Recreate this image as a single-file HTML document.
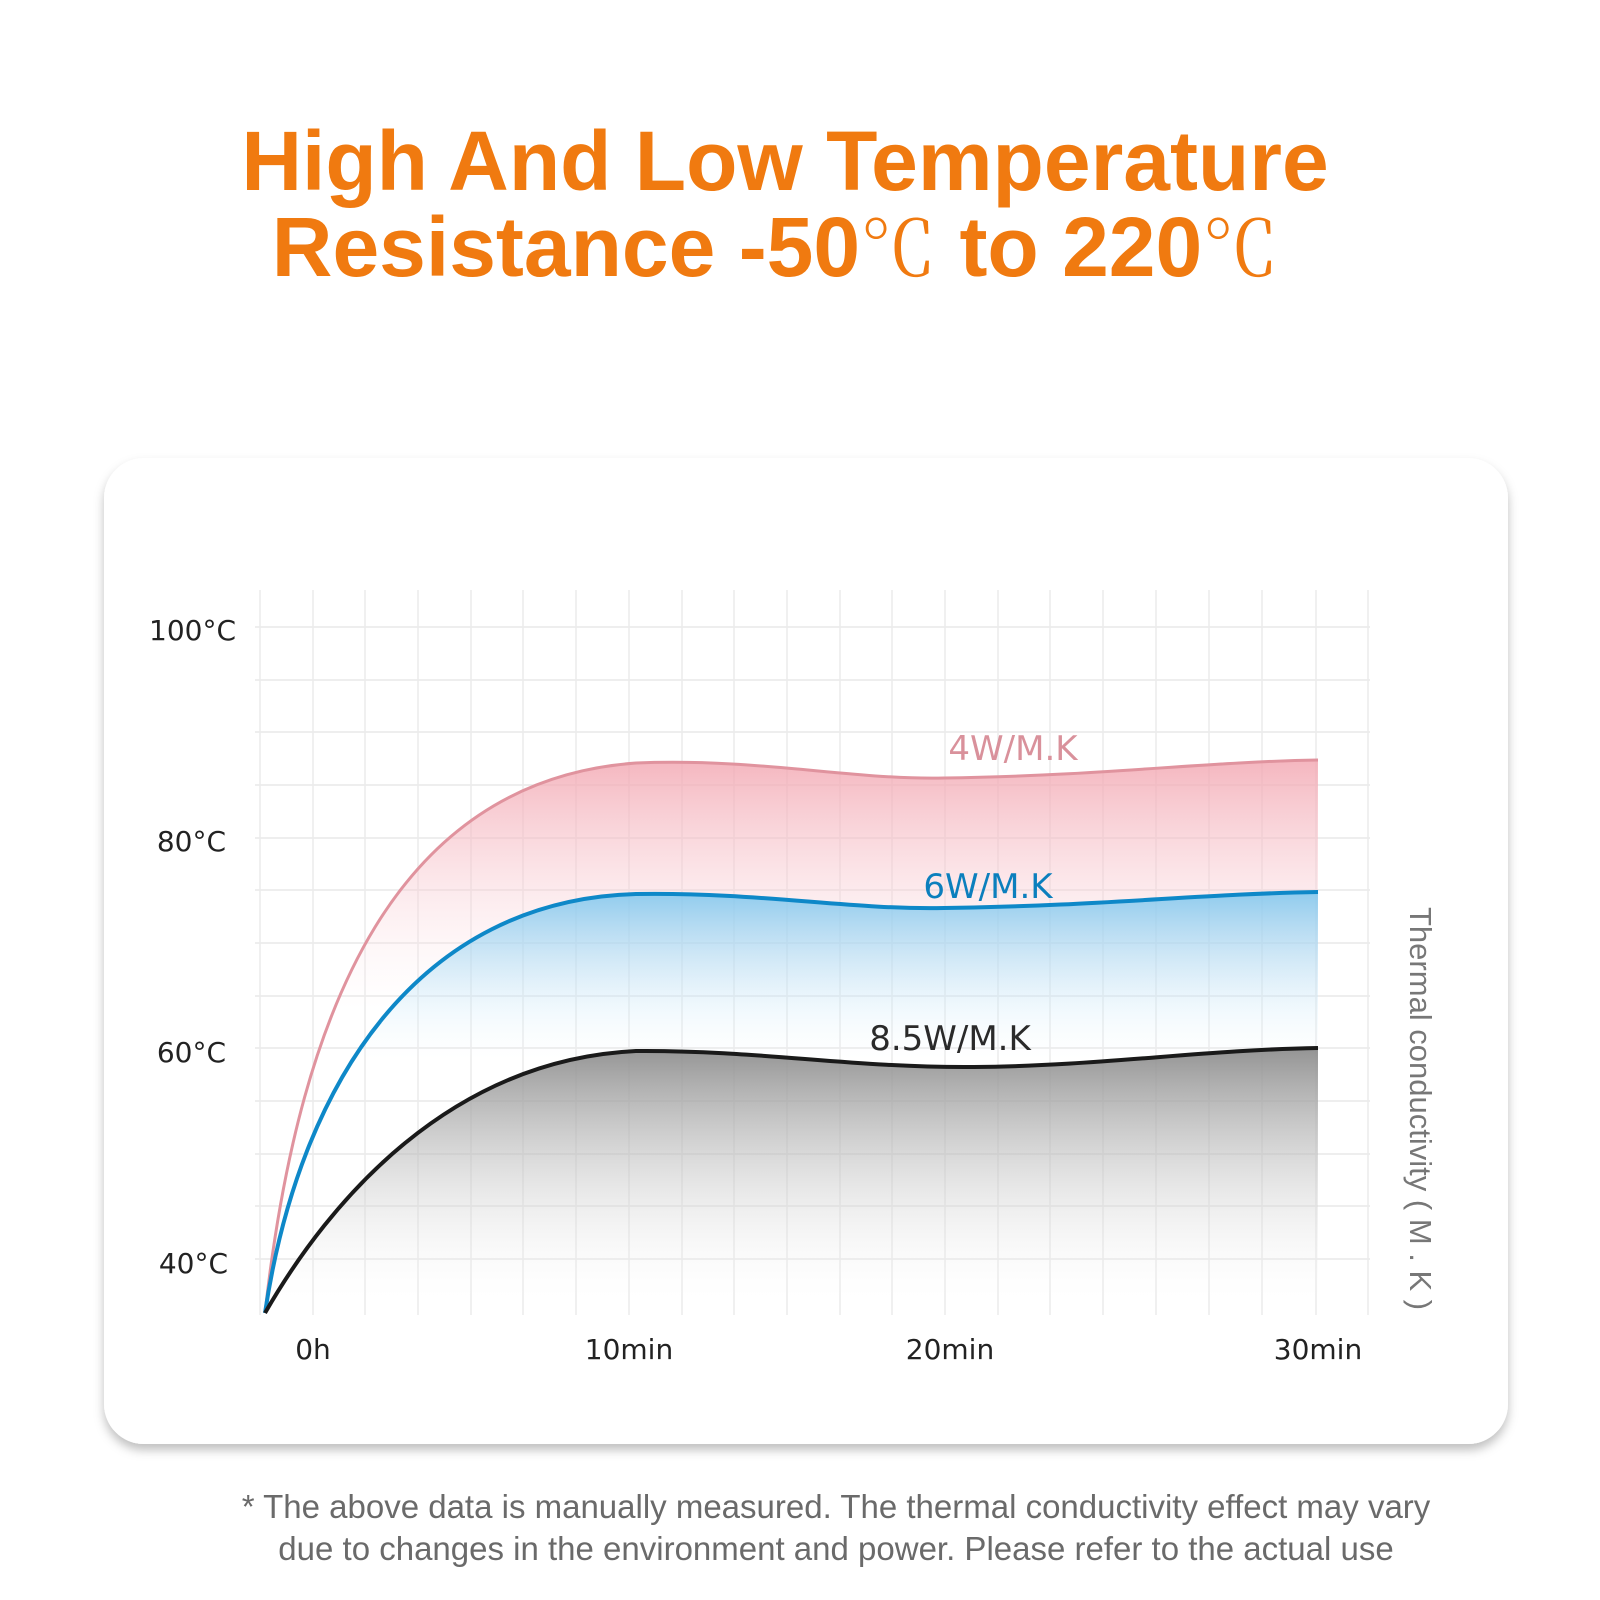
<!DOCTYPE html>
<html><head><meta charset="utf-8"><style>
html,body{margin:0;padding:0;background:#fff;}
svg{display:block}
</style></head><body>
<svg width="1600" height="1600" viewBox="0 0 1600 1600" xmlns="http://www.w3.org/2000/svg">
<defs>
<linearGradient id="pink" gradientUnits="userSpaceOnUse" x1="0" y1="762" x2="0" y2="1010">
<stop offset="0" stop-color="#f2a5b0" stop-opacity="0.8"/><stop offset="1" stop-color="#fde8ec" stop-opacity="0"/></linearGradient>
<linearGradient id="blue" gradientUnits="userSpaceOnUse" x1="0" y1="892" x2="0" y2="1060">
<stop offset="0" stop-color="#7cc6ee" stop-opacity="0.85"/><stop offset="1" stop-color="#e6f5fd" stop-opacity="0"/></linearGradient>
<linearGradient id="gray" gradientUnits="userSpaceOnUse" x1="0" y1="1048" x2="0" y2="1300">
<stop offset="0" stop-color="#8e8e8e" stop-opacity="0.95"/><stop offset="1" stop-color="#f4f4f4" stop-opacity="0"/></linearGradient>
<filter id="sh" x="-5%" y="-5%" width="110%" height="115%"><feDropShadow dx="0" dy="6" stdDeviation="5" flood-color="#000" flood-opacity="0.25"/></filter>
</defs>
<text x="785" y="190" text-anchor="middle" font-family="Liberation Sans, sans-serif" font-weight="bold" font-size="84" fill="#f07a10">High And Low Temperature</text>
<text x="775" y="276" text-anchor="middle" font-family="Liberation Sans, sans-serif" font-weight="bold" font-size="84" fill="#f07a10">Resistance -50<tspan font-weight="normal" font-family="Noto Serif CJK SC, serif" font-size="76">℃</tspan> to 220<tspan font-weight="normal" font-family="Noto Serif CJK SC, serif" font-size="76">℃</tspan></text>
<rect x="104" y="458" width="1404" height="986" rx="40" fill="#fff" filter="url(#sh)"/>
<g stroke="#e9e9e9" stroke-width="1.5">
<line x1="255" y1="627" x2="1370" y2="627"/><line x1="255" y1="680" x2="1370" y2="680"/><line x1="255" y1="732" x2="1370" y2="732"/><line x1="255" y1="785" x2="1370" y2="785"/><line x1="255" y1="838" x2="1370" y2="838"/><line x1="255" y1="890" x2="1370" y2="890"/><line x1="255" y1="943" x2="1370" y2="943"/><line x1="255" y1="996" x2="1370" y2="996"/><line x1="255" y1="1048" x2="1370" y2="1048"/><line x1="255" y1="1101" x2="1370" y2="1101"/><line x1="255" y1="1154" x2="1370" y2="1154"/><line x1="255" y1="1206" x2="1370" y2="1206"/><line x1="255" y1="1259" x2="1370" y2="1259"/>
</g>
<path d="M260 590V1315M313 590V1315M365 590V1315M418 590V1315M471 590V1315M523 590V1315M576 590V1315M629 590V1315M682 590V1315M734 590V1315M787 590V1315M840 590V1315M892 590V1315M945 590V1315M998 590V1315M1050 590V1315M1103 590V1315M1156 590V1315M1209 590V1315M1262 590V1315M1316 590V1315M1368 590V1315" stroke="#ececec" stroke-width="1.5"/>
<path d="M265 1313 C300 1000 400 780 636 763 C760 758 850 780 944 778 C1100 776 1200 762 1318 760 L1318 1010 L265 1010Z" fill="url(#pink)"/>
<path d="M265 1313 C300 1080 420 900 636 894 C760 892 850 910 944 908 C1100 906 1200 894 1318 892 L1318 1060 L265 1060Z" fill="url(#blue)"/>
<path d="M265 1313 C330 1200 450 1060 636 1051 C760 1050 850 1068 974 1067 C1100 1066 1200 1050 1318 1048 L1318 1300 L265 1300Z" fill="url(#gray)"/>
<path d="M265 1313 C300 1000 400 780 636 763 C760 758 850 780 944 778 C1100 776 1200 762 1318 760" fill="none" stroke="#e0939e" stroke-width="3"/>
<path d="M265 1313 C300 1080 420 900 636 894 C760 892 850 910 944 908 C1100 906 1200 894 1318 892" fill="none" stroke="#0e88c8" stroke-width="4"/>
<path d="M265 1313 C330 1200 450 1060 636 1051 C760 1050 850 1068 974 1067 C1100 1066 1200 1050 1318 1048" fill="none" stroke="#1a1a1a" stroke-width="4"/>
<g font-family="DejaVu Sans, sans-serif" font-size="28" fill="#222">
<text x="236" y="640" text-anchor="end">100°C</text>
<text x="226" y="851" text-anchor="end">80°C</text>
<text x="226" y="1062" text-anchor="end">60°C</text>
<text x="228" y="1273" text-anchor="end">40°C</text>
<text x="313" y="1359" text-anchor="middle">0h</text>
<text x="629" y="1359" text-anchor="middle">10min</text>
<text x="950" y="1359" text-anchor="middle">20min</text>
<text x="1318" y="1359" text-anchor="middle">30min</text>
<text x="1013" y="760" text-anchor="middle" font-size="34" fill="#d9919b">4W/M.K</text>
<text x="988" y="898" text-anchor="middle" font-size="34" fill="#0b7fbd">6W/M.K</text>
<text x="950" y="1050" text-anchor="middle" font-size="34" fill="#2a2a2a">8.5W/M.K</text>
</g>
<text transform="translate(1410 907) rotate(90)" font-family="Liberation Sans, sans-serif" font-size="31" fill="#777">Thermal conductivity ( M . K )</text>
<g font-family="Liberation Sans, sans-serif" font-size="33" fill="#6a6a6a" text-anchor="middle">
<text x="836" y="1518">* The above data is manually measured. The thermal conductivity effect may vary</text>
<text x="836" y="1560">due to changes in the environment and power. Please refer to the actual use</text>
</g>
</svg>
</body></html>
